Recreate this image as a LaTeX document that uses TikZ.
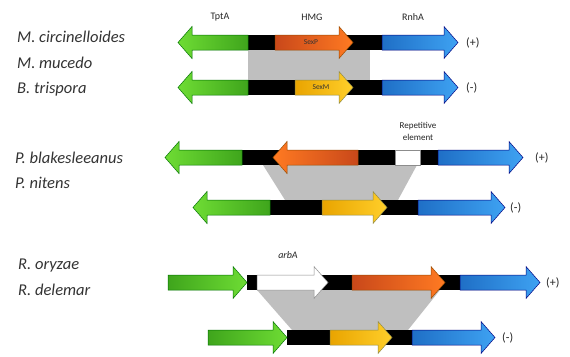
\documentclass[tikz,border=0pt]{standalone}
\usepackage{fontspec}
\setmainfont{Carlito}
\begin{document}
\begin{tikzpicture}[x=1pt,y=-1pt,
  species/.style={anchor=west,inner sep=0pt,font=\fontsize{16.5}{16}\selectfont\itshape,text=black!80},
  genelabel/.style={inner sep=0pt,font=\fontsize{10}{10}\selectfont,text=black!85},
  inlabel/.style={inner sep=0pt,font=\fontsize{7.5}{8}\selectfont,text=black!80},
  strand/.style={anchor=west,inner sep=0pt,font=\fontsize{12}{12}\selectfont,text=black!85},
  bar/.style={fill=black},
  synteny/.style={fill=black!25},
  grn/.style={draw=green!45!black,line width=0.5pt},
  org/.style={draw=orange!60!black,line width=0.5pt},
  blu/.style={draw=blue!50!black,line width=0.5pt},
  ylw/.style={draw=yellow!50!black,line width=0.5pt},
  wht/.style={draw=black!45,fill=white,line width=0.5pt}]
\definecolor{gdark}{HTML}{3FA51C}
\definecolor{glight}{HTML}{6EDC34}
\definecolor{odark}{HTML}{C9481A}
\definecolor{olight}{HTML}{FF7A22}
\definecolor{bdark}{HTML}{1F6FC6}
\definecolor{blight}{HTML}{3EA2F2}
\definecolor{ydark}{HTML}{E9A400}
\definecolor{ylight}{HTML}{FFCF2A}
\useasboundingbox (0,0) rectangle (570,356);
\fill[white] (0,0) rectangle (570,356);
% gene arrow: tail x, tip x, centre y, style
\newcommand\gene[4]{%
  \pgfmathsetmacro\genehb{#2-14*sign(#2-#1)}%
  \path[#4] (#1,#3-7.5) -- (\genehb,#3-7.5) -- (\genehb,#3-16) -- (#2,#3)
    -- (\genehb,#3+16) -- (\genehb,#3+7.5) -- (#1,#3+7.5) -- cycle;}
% species names
\node[species] (mcir) at (17,37) {M. circinelloides};
\node[species] (mmuc) at (17,63) {M. mucedo};
\node[species] (btri) at (17,89) {B. trispora};
\node[species] (pbla) at (15,158) {P. blakesleeanus};
\node[species] (pnit) at (15,183) {P. nitens};
\node[species] (rory) at (18,266) {R. oryzae};
\node[species] (rdel) at (18,290) {R. delemar};
% gene names
\node[genelabel] (tpta) at (220,17) {TptA};
\node[genelabel] (hmg) at (312,17) {HMG};
\node[genelabel] (rnha) at (413,17) {RnhA};
% conserved regions
\fill[synteny] (248,50) rectangle (370,80);
\fill[synteny] (263,165) -- (417,165) -- (398,200) -- (285,200) -- cycle;
\fill[synteny] (257,290) -- (440,290) -- (408,330) -- (292,330) -- cycle;
% row 1
\fill[bar] (248,35) rectangle (382,50);
\gene{248}{178}{42.5}{grn,left color=glight,right color=gdark}
\gene{275}{353}{42.5}{org,left color=odark,right color=olight}
\gene{382}{458}{42.5}{blu,left color=bdark,right color=blight}
\node[inlabel] (sexp) at (311,42.5) {SexP};
\node[strand] (p1) at (466,42.5) {(+)};
% row 2
\fill[bar] (248,80) rectangle (382,95);
\gene{248}{178}{87.5}{grn,left color=glight,right color=gdark}
\gene{295}{353}{87.5}{ylw,left color=ydark,right color=ylight}
\gene{382}{458}{87.5}{blu,left color=bdark,right color=blight}
\node[inlabel] (sexm) at (321,87.5) {SexM};
\node[strand] (m1) at (466,87.5) {(-)};
% row 3
\fill[bar] (242,150) rectangle (438,165);
\gene{242}{165}{157.5}{grn,left color=glight,right color=gdark}
\gene{358}{273}{157.5}{org,left color=olight,right color=odark}
\path[wht] (395,150) rectangle (420,165);
\gene{438}{523}{157.5}{blu,left color=bdark,right color=blight}
\node[genelabel,align=center,font=\fontsize{9}{12}\selectfont] (rep) at (418,131) {Repetitive\\element};
\node[strand] (p2) at (535,157.5) {(+)};
% row 4
\fill[bar] (270,200) rectangle (418,215);
\gene{270}{193}{207.5}{grn,left color=glight,right color=gdark}
\gene{322}{387}{207.5}{ylw,left color=ydark,right color=ylight}
\gene{418}{505}{207.5}{blu,left color=bdark,right color=blight}
\node[strand] (m2) at (510,207.5) {(-)};
% row 5
\fill[bar] (247,275) rectangle (460,290);
\gene{168}{247}{282.5}{grn,left color=gdark,right color=glight}
\gene{257}{328}{282.5}{wht}
\gene{352}{445}{282.5}{org,left color=odark,right color=olight}
\gene{460}{540}{282.5}{blu,left color=bdark,right color=blight}
\node[genelabel,font=\fontsize{10}{10}\selectfont\itshape] (arba) at (288,255) {arbA};
\node[strand] (p3) at (546,282.5) {(+)};
% row 6
\fill[bar] (287,330) rectangle (412,345);
\gene{208}{287}{337.5}{grn,left color=gdark,right color=glight}
\gene{330}{392}{337.5}{ylw,left color=ydark,right color=ylight}
\gene{412}{495}{337.5}{blu,left color=bdark,right color=blight}
\node[strand] (m3) at (502,337.5) {(-)};
\end{tikzpicture}
\end{document}
